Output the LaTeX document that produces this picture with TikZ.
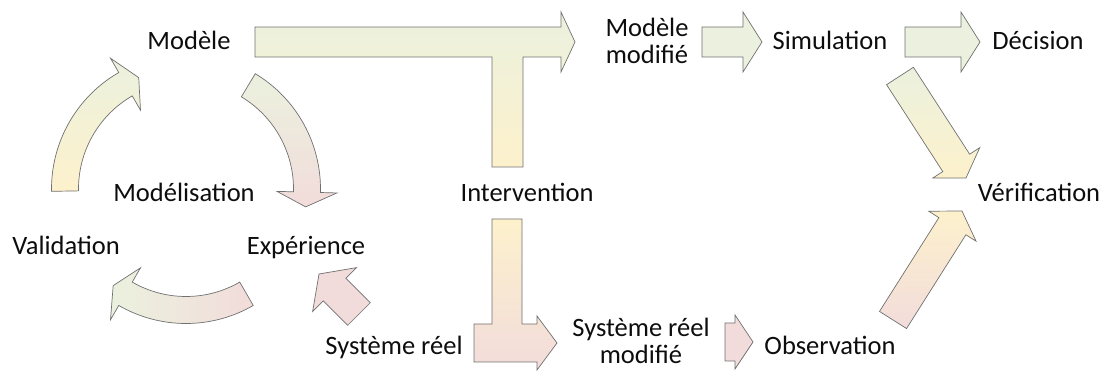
\documentclass[tikz,border=0pt]{standalone}
\usepackage{fontspec}
\setmainfont{Carlito}
\usetikzlibrary{calc}
\definecolor{cgreen}{HTML}{EBF1DE}
\definecolor{cyellow}{HTML}{FDF1CC}
\definecolor{cpink}{HTML}{F2DCDB}
\definecolor{cline}{HTML}{707070}
\tikzset{
  lbl/.style={font=\fontsize{26.5}{27}\selectfont, inner sep=0pt, anchor=base, text=black!95},
  blk/.style={draw=cline, line width=0.7pt, line join=miter},
}
\newcommand{\blockarrow}[6]{%
  \coordinate (bac) at ($(#3)!#6!(#2)$);
  \path[blk,#1] ($(#2)!#4!90:(#3)$) -- ($(bac)!#4!90:(#3)$) -- ($(bac)!#5!90:(#3)$) -- (#3)
    -- ($(bac)!#5!-90:(#3)$) -- ($(bac)!#4!-90:(#3)$) -- ($(#2)!#4!-90:(#3)$) -- cycle;
}
\begin{document}
\begin{tikzpicture}[x=1pt,y=1pt]
\useasboundingbox (0,0) rectangle (1104,371);

% labels
\node[lbl] (modele) at (189,321) {Modèle};
\node[lbl, text depth=0pt] (modmod) at (647,334) {\begin{tabular}[t]{@{}c@{}}Modèle\\modifié\end{tabular}};
\node[lbl] (simul) at (830,321) {Simulation};
\node[lbl] (decis) at (1038,321) {Décision};
\node[lbl] (modelis) at (184,169) {Modélisation};
\node[lbl] (interv) at (527,169) {Intervention};
\node[lbl] (verif) at (1039,169) {Vérification};
\node[lbl] (valid) at (66,116) {Validation};
\node[lbl] (exper) at (306,116) {Expérience};
\node[lbl] (sysreel) at (394,16) {Système réel};
\node[lbl, text depth=0pt] (sysmod) at (641,34) {\begin{tabular}[t]{@{}c@{}}Système réel\\modifié\end{tabular}};
\node[lbl] (observ) at (830,16) {Observation};

% cycle arcs
\coordinate (O) at (186,182);
\begin{scope}[shift={(O)}]
\path[blk, top color=cgreen, bottom color=cyellow]
  (181:134.5) arc[start angle=181,end angle=120,radius=134.5pt] -- (120:151) -- (113:121)
  -- (120:91) -- (120:107.5) arc[start angle=120,end angle=181,radius=107.5pt] -- cycle;
\path[blk, top color=cgreen, bottom color=cpink]
  (59:134.5) arc[start angle=59,end angle=-1.5,radius=134.5pt] -- (-1.5:151) -- (-8.5:121)
  -- (-1.5:91) -- (-1.5:107.5) arc[start angle=-1.5,end angle=59,radius=107.5pt] -- cycle;
\path[blk, left color=cgreen, right color=cpink]
  (-60:134.5) arc[start angle=-60,end angle=-120,radius=134.5pt] -- (-120:151) -- (-127:121)
  -- (-120:91) -- (-120:107.5) arc[start angle=-120,end angle=-60,radius=107.5pt] -- cycle;
\end{scope}

% big T arrow (Modele -> Modele modifie, Intervention)
\path[blk, top color=cgreen, middle color=cgreen, bottom color=cyellow]
  (255,344) -- (561,344) -- (561,359) -- (575,329) -- (561,299) -- (561,314) -- (523,314)
  -- (523,204) -- (492,204) -- (492,314) -- (255,314) -- cycle;

% lower L arrow (Intervention -> Systeme reel modifie)
\path[blk, top color=cyellow, middle color=cpink, bottom color=cpink]
  (492,152) -- (522,152) -- (522,47) -- (537,47) -- (537,55) -- (557,28) -- (537,1)
  -- (537,9) -- (474,9) -- (474,47) -- (492,47) -- cycle;

% straight arrows
\coordinate (t1) at (702,329); \coordinate (h1) at (762,329);
\blockarrow{fill=cgreen}{t1}{h1}{15pt}{30pt}{19pt}
\coordinate (t2) at (905,329); \coordinate (h2) at (980,329);
\blockarrow{fill=cgreen}{t2}{h2}{15pt}{30pt}{19pt}
\coordinate (t3) at (900,295); \coordinate (h3) at (966,193);
\blockarrow{top color=cgreen, bottom color=cyellow}{t3}{h3}{16pt}{28pt}{18pt}
\coordinate (t4) at (893,51); \coordinate (h4) at (962,160);
\blockarrow{top color=cyellow, bottom color=cpink}{t4}{h4}{16pt}{28pt}{18pt}
\coordinate (t5) at (359,57); \coordinate (h5) at (319,97);
\blockarrow{fill=cpink}{t5}{h5}{16pt}{31pt}{22pt}
\coordinate (t6) at (725,29); \coordinate (h6) at (753,29);
\blockarrow{fill=cpink}{t6}{h6}{19pt}{27pt}{18pt}
\end{tikzpicture}
\end{document}
